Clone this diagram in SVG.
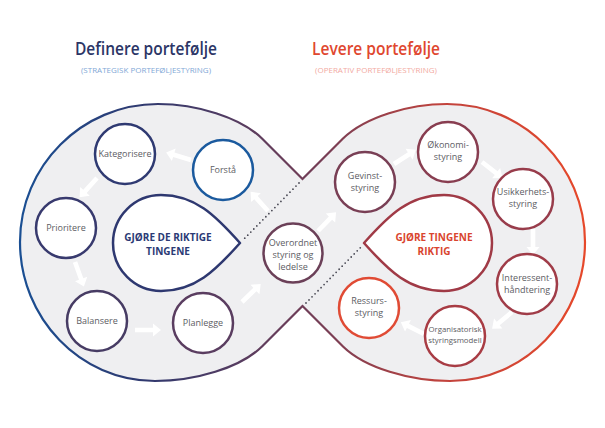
<svg xmlns="http://www.w3.org/2000/svg" xmlns:xlink="http://www.w3.org/1999/xlink" width="605" height="428" viewBox="0 0 605 428">
<defs>
<linearGradient id="outline" gradientUnits="userSpaceOnUse" x1="20" y1="0" x2="585" y2="0">
<stop offset="0" stop-color="#1a4f93"/>
<stop offset="0.22" stop-color="#30396f"/>
<stop offset="0.42" stop-color="#5e3d5d"/>
<stop offset="0.55" stop-color="#7a3e54"/>
<stop offset="0.75" stop-color="#c2433d"/>
<stop offset="1" stop-color="#e6482a"/>
</linearGradient>
<path id="arr" d="M0,-2.3 L18,-2.3 L18,-6.5 L26,0 L18,6.5 L18,2.3 L0,2.3 Z"/>
</defs>
<style>
.node circle{fill:#ffffff;stroke-width:2.5}
.lbl{font-family:"Open Sans","Noto Sans",sans-serif;font-size:9px;fill:#5c5c63;text-anchor:middle}
.big{font-family:"Open Sans","Noto Sans",sans-serif;font-size:10px;font-weight:700;text-anchor:middle}
.title{font-family:"Open Sans","Noto Sans",sans-serif;font-size:18px;font-weight:600;text-anchor:middle}
.sub{font-family:"Open Sans","Noto Sans",sans-serif;font-size:8px;text-anchor:middle}
.arrow{fill:#ffffff}
.dots{fill:none;stroke:#4a4a55;stroke-width:1.8;stroke-linecap:round;stroke-dasharray:0 4.3}
</style>
<rect width="605" height="428" fill="#ffffff"/>

<g id="titles">
<text class="title" x="146" y="55" fill="#2b3566" textLength="142" lengthAdjust="spacingAndGlyphs">Definere portefølje</text>
<text class="sub" x="146" y="73" fill="#7fa8d6">(STRATEGISK PORTEFØLJESTYRING)</text>
<text class="title" x="376" y="55" fill="#e0472f" textLength="128" lengthAdjust="spacingAndGlyphs">Levere portefølje</text>
<text class="sub" x="376" y="73" fill="#f2aaa2">(OPERATIV PORTEFØLJESTYRING)</text>
</g>

<g id="infinity">
<path d="M302.5,179 L262,138.5 C240,117 196,104 158,104 C82,104 20,166 20,242 C20,318 80,381 155,381 C195,381 240,368 262,346.5 L302.5,306 L343,346.5 C365,368 410,381 450,381 C525,381 585,318 585,242 C585,166 523,104 447,104 C409,104 365,117 343,138.5 Z" fill="#efeff1" stroke="url(#outline)" stroke-width="2.2" stroke-linejoin="miter"/>
<path class="dots" d="M299,183 L243,240"/>
<path class="dots" d="M306,303 L362,246"/>
</g>

<g id="connectors">
<use xlink:href="#arr" class="arrow" transform="translate(191,160) rotate(197)"/>
<use xlink:href="#arr" class="arrow" transform="translate(97,178) rotate(132)"/>
<use xlink:href="#arr" class="arrow" transform="translate(75,262) rotate(70)"/>
<use xlink:href="#arr" class="arrow" transform="translate(135,330) rotate(0)"/>
<use xlink:href="#arr" class="arrow" transform="translate(242,302) rotate(-44)"/>
<use xlink:href="#arr" class="arrow" transform="translate(268,211) rotate(-132)"/>
<use xlink:href="#arr" class="arrow" transform="translate(318,231) rotate(-46)"/>
<use xlink:href="#arr" class="arrow" transform="translate(394,164) rotate(-33)"/>
<use xlink:href="#arr" class="arrow" transform="translate(482,162) rotate(38)"/>
<use xlink:href="#arr" class="arrow" transform="translate(533,229) rotate(90)"/>
<use xlink:href="#arr" class="arrow" transform="translate(512,312) rotate(140)"/>
<use xlink:href="#arr" class="arrow" transform="translate(424,334) rotate(207)"/>
</g>

<g id="define-center">
<path d="M240,243 C215,215 195,195 161,195 A48,48 0 0 0 161,291 C195,291 215,271 240,243 Z" fill="#ffffff" stroke="#2e3870" stroke-width="2.5" stroke-linejoin="round"/>
<text class="big" fill="#2b3a75" x="168" y="241">GJØRE DE RIKTIGE</text>
<text class="big" fill="#2b3a75" x="168" y="255">TINGENE</text>
</g>

<g id="deliver-center">
<path d="M364,243 C389,215 409,195 444,195 A48,48 0 0 1 444,291 C409,291 389,271 364,243 Z" fill="#ffffff" stroke="#a03a46" stroke-width="2.5" stroke-linejoin="round"/>
<text class="big" fill="#d9452f" x="434" y="241">GJØRE TINGENE</text>
<text class="big" fill="#d9452f" x="434" y="255">RIKTIG</text>
</g>

<g id="kategorisere" class="node"><circle cx="125" cy="154" r="30" stroke="#2f3a72"/><text class="lbl" x="125" y="157">Kategorisere</text></g>
<g id="forsta" class="node"><circle cx="223" cy="170" r="30" stroke="#1b5a9e"/><text class="lbl" x="223" y="173">Forstå</text></g>
<g id="prioritere" class="node"><circle cx="66" cy="228" r="30" stroke="#383a6e"/><text class="lbl" x="66" y="231">Prioritere</text></g>
<g id="balansere" class="node"><circle cx="97" cy="321" r="30" stroke="#473c64"/><text class="lbl" x="97" y="324">Balansere</text></g>
<g id="planlegge" class="node"><circle cx="203" cy="323" r="30" stroke="#5a3d60"/><text class="lbl" x="203" y="326">Planlegge</text></g>
<g id="overordnet" class="node"><circle cx="293" cy="253" r="29.5" stroke="#6b4058"/><text class="lbl" x="293" y="246">Overordnet</text><text class="lbl" x="293" y="258">styring og</text><text class="lbl" x="293" y="270">ledelse</text></g>
<g id="gevinst" class="node"><circle cx="365" cy="182" r="30" stroke="#793f55"/><text class="lbl" x="365" y="179">Gevinst-</text><text class="lbl" x="365" y="191">styring</text></g>
<g id="okonomi" class="node"><circle cx="448" cy="152" r="30" stroke="#883d50"/><text class="lbl" x="448" y="148">Økonomi-</text><text class="lbl" x="448" y="160">styring</text></g>
<g id="usikkerhet" class="node"><circle cx="523" cy="199" r="30" stroke="#983c4b"/><text class="lbl" x="523" y="195">Usikkerhets-</text><text class="lbl" x="523" y="207">styring</text></g>
<g id="interessent" class="node"><circle cx="527" cy="284" r="30" stroke="#a03c48"/><text class="lbl" x="527" y="281">Interessent-</text><text class="lbl" x="527" y="293">håndtering</text></g>
<g id="organisatorisk" class="node"><circle cx="455" cy="336" r="30" stroke="#a83c44"/><text class="lbl" x="455" y="332" style="font-size:7.8px">Organisatorisk</text><text class="lbl" x="455" y="343" style="font-size:7.8px">styringsmodell</text></g>
<g id="ressurs" class="node"><circle cx="369" cy="308" r="30" stroke="#e04b35"/><text class="lbl" x="369" y="304">Ressurs-</text><text class="lbl" x="369" y="316">styring</text></g>
</svg>
